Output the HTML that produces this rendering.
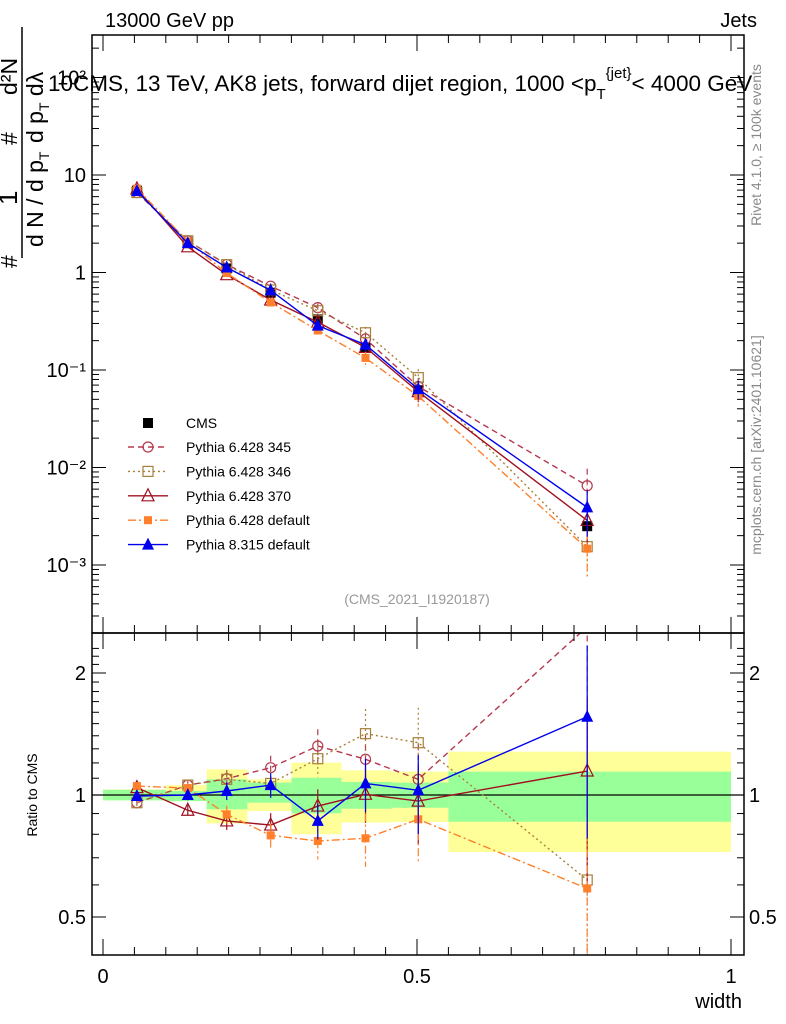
<!DOCTYPE html>
<html><head><meta charset="utf-8"><style>
html,body{margin:0;padding:0;background:#fff;}
svg{display:block;font-family:"Liberation Sans",sans-serif;}
</style></head><body>
<svg id="c" width="786" height="1024" viewBox="0 0 786 1024" xmlns="http://www.w3.org/2000/svg">
<defs><clipPath id="rclip"><rect x="92" y="633" width="652" height="322"/></clipPath>
<clipPath id="tclip"><rect x="92" y="35" width="652" height="598"/></clipPath></defs>
<g id="bands" clip-path="url(#rclip)"></g>
<g id="marks"></g>
<g id="axes"></g>
<text x="105" y="27" font-size="20">13000 GeV pp</text>
<text x="757" y="27" font-size="20" text-anchor="end">Jets</text>
<text x="48" y="91" font-size="22.5">10CMS, 13 TeV, AK8 jets, forward dijet region, 1000 &lt;p<tspan font-size="15" dy="8">T</tspan><tspan font-size="15" dy="-21">{jet}</tspan><tspan dy="13">&lt; 4000 GeV</tspan></text>
<text transform="translate(761,145) rotate(-90)" font-size="14" fill="#888" text-anchor="middle">Rivet 4.1.0, ≥ 100k events</text>
<text transform="translate(761,445) rotate(-90)" font-size="14" fill="#888" text-anchor="middle">mcplots.cern.ch [arXiv:2401.10621]</text>
<text x="417" y="604" font-size="14" fill="#999" text-anchor="middle">(CMS_2021_I1920187)</text>
<g font-size="23">
<text transform="translate(17,268) rotate(-90)">#</text>
<text transform="translate(17,205) rotate(-90)" font-size="26">1</text>
<text transform="translate(17,145) rotate(-90)">#</text>
<text transform="translate(17,95) rotate(-90)">d²N</text>
<line x1="22" y1="27" x2="22" y2="258" stroke="#000" stroke-width="1.5"/>
<text transform="translate(43,247) rotate(-90)">d N / d p<tspan font-size="14" dy="6">T</tspan></text>
<text transform="translate(43,143) rotate(-90)">d p<tspan font-size="14" dy="6">T</tspan><tspan dy="-6"> d</tspan>λ</text>
</g>
<text transform="translate(37,795) rotate(-90)" font-size="14" text-anchor="middle">Ratio to CMS</text>
<text x="742" y="1008" font-size="20" text-anchor="end">width</text>
<g font-size="14" id="legend"></g>
<script>
const xCenters=[0.054,0.135,0.197,0.267,0.342,0.418,0.502,0.771];
const binEdges=[0,0.1,0.165,0.23,0.3,0.38,0.46,0.55,1.0];
const cmsValues=[6.9,2.0,1.1,0.62,0.33,0.17,0.062,0.0025];
const yellowHi=[1.032,1.058,1.157,1.093,1.202,1.150,1.142,1.279];
const yellowLo=[0.970,0.966,0.851,0.913,0.800,0.855,0.858,0.723];
const greenHi=[1.03,1.023,1.093,1.073,1.103,1.077,1.073,1.142];
const greenLo=[0.97,0.966,0.922,0.957,0.901,0.925,0.930,0.859];
const ratio345=[0.957,1.058,1.097,1.168,1.321,1.225,1.093,2.6];
const ratio346=[0.957,1.058,1.093,1.068,1.229,1.417,1.346,0.617];
const ratio370=[1.043,0.917,0.863,0.843,0.939,1.004,0.966,1.146];
const ratioP6def=[1.052,1.04,0.896,0.795,0.77,0.782,0.871,0.588];
const ratioP8=[0.994,1.0,1.023,1.058,0.863,1.068,1.027,1.56];
const relErr=[0.02,0.03,0.05,0.07,0.1,0.15,0.22,0.5];
const topTicks=[["10²",100],["10",10],["1",1],["10⁻¹",0.1],["10⁻²",0.01],["10⁻³",0.001]];
const ratioTicks=[["2",2],["1",1],["0.5",0.5]];
const xTicks=[["0",0],["0.5",0.5],["1",1]];

const NS="http://www.w3.org/2000/svg";
const X=v=>103+628*v;
const YT=v=>175-97.5*(Math.log10(v)-1);
const YR=r=>795-122*Math.log2(r);
function mk(tag,attrs,parent){const e=document.createElementNS(NS,tag);for(const k in attrs)e.setAttribute(k,attrs[k]);parent.appendChild(e);return e;}
const bands=document.getElementById('bands'),marks=document.getElementById('marks'),axes=document.getElementById('axes'),legend=document.getElementById('legend');
for(let i=0;i<8;i++){
  const x0=X(binEdges[i]),x1=X(binEdges[i+1]);
  let r=mk('rect',{x:x0,y:YR(yellowHi[i]),width:x1-x0,height:YR(yellowLo[i])-YR(yellowHi[i]),fill:'#ffff99'},bands);
  
  
  let g=mk('rect',{x:x0,y:YR(greenHi[i]),width:x1-x0,height:YR(greenLo[i])-YR(greenHi[i]),fill:'#99ff99'},bands);
  
  
}
const ref=mk('line',{x1:92,x2:744,y1:YR(1),y2:YR(1),stroke:'#000','stroke-width':1.2},bands);



function marker(type,color,x,y,parent,size){
  size=size||5;
  if(type==='circle')return mk('circle',{cx:x,cy:y,r:size,fill:'none',stroke:color,'stroke-width':1.2},parent);
  if(type==='osq')return mk('rect',{x:x-size,y:y-size,width:2*size,height:2*size,fill:'none',stroke:color,'stroke-width':1.2},parent);
  if(type==='fsq')return mk('rect',{x:x-size+1,y:y-size+1,width:2*size-2,height:2*size-2,fill:color},parent);
  if(type==='otri')return mk('path',{d:`M${x},${y-size-2}L${x+size+1},${y+size}L${x-size-1},${y+size}Z`,fill:'none',stroke:color,'stroke-width':1.2},parent);
  if(type==='ftri')return mk('path',{d:`M${x},${y-size-2}L${x+size+1},${y+size}L${x-size-1},${y+size}Z`,fill:color},parent);
  return mk('rect',{x:x-5,y:y-5,width:10,height:10,fill:color},parent);
}
const series=[
 {name:'Pythia 6.428 345',r:ratio345,c:'#b5384f',dash:'6,4',m:'circle',id:'pythia6-345'},
 {name:'Pythia 6.428 346',r:ratio346,c:'#a8803a',dash:'2,3',m:'osq',id:'pythia6-346'},
 {name:'Pythia 6.428 370',r:ratio370,c:'#a01020',dash:'',m:'otri',id:'pythia6-370'},
 {name:'Pythia 6.428 default',r:ratioP6def,c:'#ff7f2a',dash:'8,3,2,3',m:'fsq',id:'pythia6-default'},
 {name:'Pythia 8.315 default',r:ratioP8,c:'#0000ee',dash:'',m:'ftri',id:'pythia8-default'}
];
const tg=mk('g',{'clip-path':'url(#tclip)'},marks);
const rg=mk('g',{'clip-path':'url(#rclip)'},marks);
cmsValues.forEach((v,i)=>{const p=marker('sq','#000',X(xCenters[i]),YT(v),tg);
 
 });
series.forEach(s=>{
  const vals=s.r.map((r,i)=>r*cmsValues[i]);
  const pts=vals.map((v,i)=>X(xCenters[i])+','+YT(v)).join(' ');
  const l=mk('polyline',{points:pts,fill:'none',stroke:s.c,'stroke-width':1.4,'stroke-dasharray':s.dash},tg);
  
  
  const rp=s.r.map((r,i)=>X(xCenters[i])+','+YR(r)).join(' ');
  const rl=mk('polyline',{points:rp,fill:'none',stroke:s.c,'stroke-width':1.4,'stroke-dasharray':s.dash},rg);
  
  
  vals.forEach((v,i)=>{
    const x=X(xCenters[i]);
    mk('line',{x1:x,x2:x,y1:YT(v*(1+relErr[i])),y2:YT(Math.max(v*(1-relErr[i]),v*0.1)),stroke:s.c,'stroke-width':1.2,'stroke-dasharray':s.dash},tg);
    const m=marker(s.m,s.c,x,YT(v),tg);
    
    
    const r=s.r[i];
    mk('line',{x1:x,x2:x,y1:YR(r*(1+relErr[i])),y2:YR(Math.max(r*(1-relErr[i]),0.3)),stroke:s.c,'stroke-width':1.2,'stroke-dasharray':s.dash},rg);
    const rm=marker(s.m,s.c,x,YR(r),rg);
    
    
  });
});
const lrows=[{name:'CMS',m:'sq',c:'#000',dash:'',y:423}].concat(series.map((s,i)=>({name:s.name,m:s.m,c:s.c,dash:s.dash,y:447+i*24.4})));
lrows.forEach(r=>{
  const g=mk('g',{},legend);
  
  
  if(r.name!=='CMS')mk('line',{x1:128,x2:168,y1:r.y,y2:r.y,stroke:r.c,'stroke-width':1.4,'stroke-dasharray':r.dash},g);
  marker(r.m,r.c,148,r.y,g);
  const t=mk('text',{x:186,y:r.y+5,'font-size':14},g);t.textContent=r.name;
});
const f1=mk('rect',{x:92,y:35,width:652,height:598,fill:'none',stroke:'#000','stroke-width':1.5},axes);


const f2=mk('rect',{x:92,y:633,width:652,height:322,fill:'none',stroke:'#000','stroke-width':1.5},axes);


for(let e=-4;e<=2;e++){for(let k=1;k<10;k++){const v=k*Math.pow(10,e);const y=YT(v);if(y<35||y>633)continue;const L=k===1?14:7;
 mk('line',{x1:92,x2:92+L,y1:y,y2:y,stroke:'#000'},axes);mk('line',{x1:744-L,x2:744,y1:y,y2:y,stroke:'#000'},axes);}}
topTicks.forEach(t=>{const tx=mk('text',{x:86,y:YT(t[1])+7,'font-size':20,'text-anchor':'end'},axes);tx.textContent=t[0];
 
 });
[0.4,0.5,0.6,0.7,0.8,0.9,1,1.1,1.2,1.3,1.4,1.5,1.6,1.7,1.8,1.9,2,2.1,2.2,2.3].forEach(r=>{const y=YR(r);if(y<633||y>955)return;const L=(r===0.5||r===1||r===2)?14:7;
 mk('line',{x1:92,x2:92+L,y1:y,y2:y,stroke:'#000'},axes);mk('line',{x1:744-L,x2:744,y1:y,y2:y,stroke:'#000'},axes);});
ratioTicks.forEach(t=>{['l','r'].forEach(side=>{const tx=mk('text',{x:side==='l'?86:749,y:YR(t[1])+7,'font-size':20,'text-anchor':side==='l'?'end':'start'},axes);tx.textContent=t[0];
 
 });});
for(let i=0;i<=20;i++){const v=i*0.05;const x=X(v);const L=(i%10===0)?16:8;
 mk('line',{x1:x,x2:x,y1:955,y2:955-L,stroke:'#000'},axes);mk('line',{x1:x,x2:x,y1:633,y2:633-L,stroke:'#000'},axes);mk('line',{x1:x,x2:x,y1:35,y2:35+L,stroke:'#000'},axes);mk('line',{x1:x,x2:x,y1:633,y2:633+L,stroke:'#000'},axes);}
xTicks.forEach(t=>{const tx=mk('text',{x:X(t[1]),y:983,'font-size':20,'text-anchor':'middle'},axes);tx.textContent=t[0];
 
 });
</script>
</svg>
</body></html>
